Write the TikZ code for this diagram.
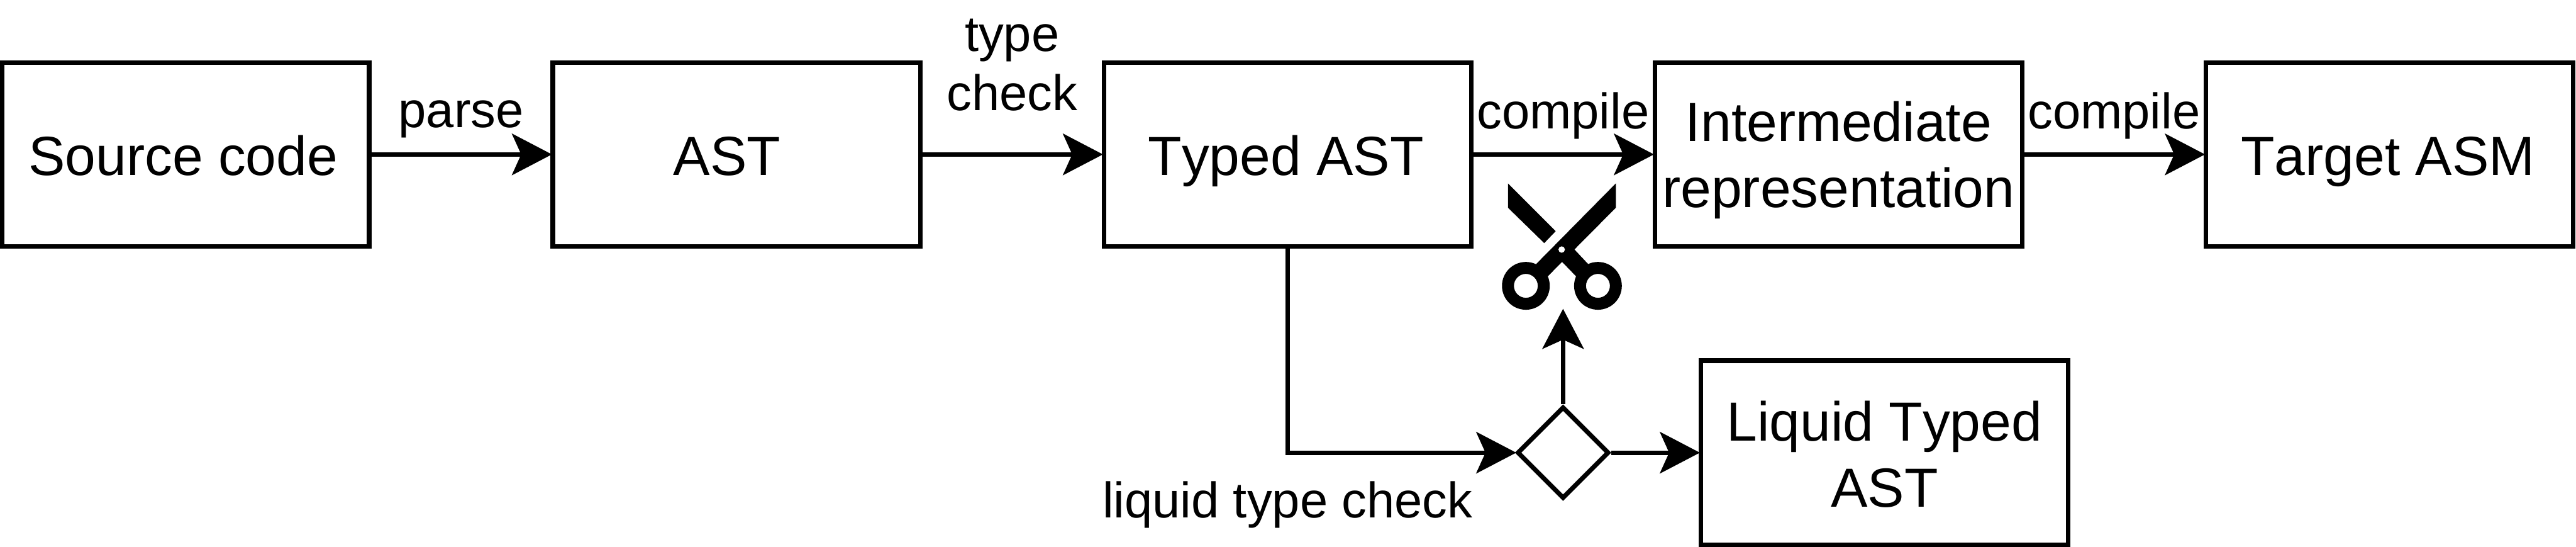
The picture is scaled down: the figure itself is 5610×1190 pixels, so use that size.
\documentclass[tikz,border=0pt]{standalone}
\usepackage{fontspec}
\setmainfont[Kerning=Off]{Liberation Sans}
\usetikzlibrary{arrows.meta,shapes.geometric}
\tikzset{
  x=0.1pt,y=-0.1pt,
  boxnode/.style={draw=black,line width=1pt,minimum width=80pt,minimum height=40pt,inner sep=0pt,align=center,
    font=\fontsize{12}{14.4}\selectfont,text height=9.2pt,text depth=0pt},
  twoline/.style={text height=23pt},
  lbl/.style={inner sep=0pt,align=center,font=\fontsize{10.9}{13}\selectfont,text height=7.8pt,text depth=0pt},
  gate/.style={draw=black,line width=1pt,shape=diamond,aspect=1,minimum width=20pt,minimum height=20pt,inner sep=0pt},
  conn/.style={line width=1pt,shorten >=-0.3pt,-{Stealth[length=8.7pt,width=9pt,inset=2pt]}},
}
\begin{document}
\begin{tikzpicture}
\useasboundingbox (0,0) rectangle (5610,1190);
\node[boxnode] (src) at (404,336) {Source code\kern1pt};
\node[boxnode] (ast) at (1604,336) {AST\kern4.2pt};
\node[boxnode] (typed) at (2804,336) {Typed AST\kern0.7pt};
\node[boxnode,twoline] (ir) at (4004,336) {Intermediate\\representation};
\node[boxnode] (asm) at (5204,336) {Target ASM\kern0.7pt};
\node[boxnode,text height=23.6pt] (liquid) at (4104,985) {Liquid Typed\\AST};
\node[gate] (gate) at (3404,985) {};
\coordinate (cut) at (3404,675);
\draw[conn] (src) -- (ast);
\draw[conn] (ast) -- (typed);
\draw[conn] (typed) -- (ir);
\draw[conn] (ir) -- (asm);
\draw[conn] (typed.south) |- (gate.west);
\draw[conn] (gate.east) -- (liquid.west);
\draw[conn] (gate.north) -- (cut);
\node[lbl] (lparse) at (1004,238) {parse};
\node[lbl,text height=20.8pt] (ltype) at (2204,137) {type\\check};
\node[lbl] (lcomp1) at (3404,241) {compile};
\node[lbl] (lcomp2) at (4604,241) {compile};
\node[lbl] (lliq) at (2804,1088) {liquid type check};
% scissors
\fill (3284,399) -- (3284,452) -- (3363,529) -- (3388,503) -- cycle;
\fill (3519,399) -- (3519,452) -- (3370,602) -- (3345,575) -- cycle;
\fill (3428,542) -- (3459,575) -- (3433,602) -- (3401,569) -- cycle;
\fill[even odd rule] (3323,622) circle[radius=52] (3323,622) circle[radius=26];
\fill[even odd rule] (3480,622) circle[radius=52] (3480,622) circle[radius=26];
\fill[white] (3401,543) circle[radius=7];
\end{tikzpicture}
\end{document}
